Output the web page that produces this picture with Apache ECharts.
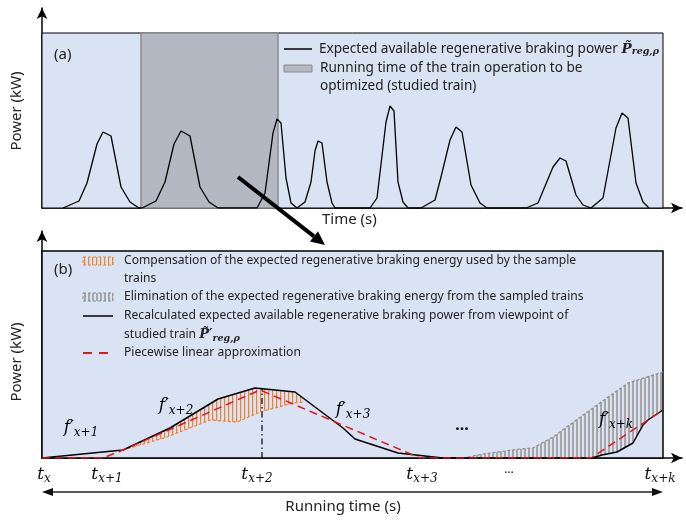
<!DOCTYPE html>
<html><head><meta charset="utf-8">
<script src="https://cdn.jsdelivr.net/npm/echarts@6/dist/echarts.min.js"></script>
<style>html,body{margin:0;padding:0;background:#fff}#c{width:686px;height:522px}</style>
</head><body><div id="c"></div>
<script>
// ---------- Panel (a) ----------
// expected available regenerative braking power [time, power]
var powerA = [[21,0],[37,7],[45,25],[55,64],[61,76],[69,72],[79,21],[88,6],[97,0],[100,0],[114,7],[123,26],[132,64],[139,77],[148,72],[158,21],[167,6],[176,0],[215,0],[223,15],[231,75],[235,89],[239,85],[244,30],[249,5],[255,0],[263,6],[269,26],[273,57],[276,67],[280,65],[285,26],[290,5],[293,0],[328,0],[335,10],[344,86],[348,102],[352,97],[356,26],[361,6],[366,0],[379,0],[393,8],[399,31],[408,68],[414,81],[420,76],[429,23],[438,5],[445,0],[484,0],[496,5],[511,41],[518,50],[524,47],[534,13],[541,3],[549,0],[561,10],[574,80],[580,95],[586,90],[594,25],[601,6],[607,0]];
var studiedRun = [99, 236];          // running time of studied train
var boxA = [621, 175];               // framed plot extent (time, power)

// ---------- Panel (b) ----------
var recalc = [[0,0],[81,8],[128,30],[176,59],[213,70],[253,66],[301,30],[313,19],[356,5],[401,0],[550,0],[560,3],[575,6],[591,15],[601,33],[606,38],[621,48]];
var approx = [[0,0],[61,0],[81,8],[218,68],[378,0],[549,0],[621,48]];
var compUpper = [[81,8],[128,30],[176,59],[213,70],[253,66],[262,59]];
var compLower = [[81,8],[125,21],[168,38],[195,36],[218,46],[251,55],[262,56]];
var elimUpper = [[421,0],[441,4],[478,9],[491,10],[511,21],[555,53],[586,75],[621,86]];
var elimLower = [[421,0],[550,0],[560,3],[575,6],[591,15],[601,33],[606,38],[621,48]];
var peakMark = [[220,0],[220,69]];
var boxB = [621, 207];
var tickValues = [2, 65, 215, 380, 467, 618];
var tickMain = ['t','t','t','t','…','t'];
var tickSub = ['x','x+1','x+2','x+3','','x+k'];

var BG = '#dae3f3', GRAYREG = '#b3b8c2', ORANGE = '#f0802c', GRAYH = '#a6a6a6';
var FONT = 'Noto Sans';
var MATH = 'DejaVu Serif';

function hatch(color, w, lw){
  var c = document.createElement('canvas'); c.width = w; c.height = 4;
  var g = c.getContext('2d'); g.fillStyle = color; g.fillRect(0,0,lw,4);
  return {image: c, repeat: 'repeat'};
}
var orangeHatch = hatch(ORANGE, 4, 1.2);
var grayHatch = hatch(GRAYH, 4, 2);

function regionSeries(upper, lower, fill, edge, edgePts){
  return {
    type:'custom', xAxisIndex:1, yAxisIndex:1, z:3, data:[0], silent:true,
    renderItem: function(params, api){
      var pts = upper.map(function(p){return api.coord(p);})
        .concat(lower.slice().reverse().map(function(p){return api.coord(p);}));
      return {type:'group', children:[
        {type:'polygon', shape:{points:pts}, style:{fill:fill, stroke:null}},
        {type:'polyline', shape:{points:edgePts.map(function(p){return api.coord(p);})},
         style:{stroke:edge, lineWidth:1.2, lineDash:[3,2], fill:null}}
      ]};
    }
  };
}

var mathRich = {
  f:{fontFamily:MATH, fontStyle:'italic', fontSize:17, color:'#111'},
  fs:{fontFamily:MATH, fontStyle:'italic', fontSize:12, color:'#111', padding:[10,0,0,0]}
};
function fLabel(sub, x, y){
  return {type:'text', x:x, y:y, style:{text:'{f|f′}{fs|'+sub+'}', rich:mathRich, align:'center', verticalAlign:'middle'}};
}

var legendTxt = {fontFamily:FONT, fontSize:12.1, fill:'#222'};
var legendTxtA = {fontFamily:FONT, fontSize:13.6, fill:'#222'};
function txt(s, x, y, extra){
  var st = Object.assign({text:s, verticalAlign:'middle', align:'left'}, legendTxt, extra||{});
  return {type:'text', x:x, y:y, style:st};
}

var graphics = [
    // panel (a) labels
    txt('(a)', 54, 55, {fontSize:15}),
    {type:'text', x:17, y:111, rotation:Math.PI/2, style:Object.assign({text:'Power (kW)', align:'center', verticalAlign:'middle'}, legendTxt, {fontSize:15})},
    txt('Time (s)', 322, 220, {fontSize:15}),
    // legend (a)
    {type:'line', shape:{x1:284, y1:49, x2:312, y2:49}, style:{stroke:'#000', lineWidth:1.5}},
    {type:'text', x:319, y:49, style:{text:'Expected available regenerative braking power {P|P\u0303}{ps|reg,ρ}', verticalAlign:'middle', fontFamily:FONT, fontSize:13.6, fill:'#222',
      rich:{P:{fontFamily:MATH, fontStyle:'italic', fontWeight:'bold', fontSize:13.6, color:'#222'}, ps:{fontFamily:MATH, fontStyle:'italic', fontWeight:'bold', fontSize:9.5, color:'#222', padding:[6,0,0,0]}}}},
    {type:'rect', shape:{x:284, y:65, width:28, height:7}, style:{fill:GRAYREG, stroke:'#8a8a8a', lineWidth:1}},
    txt('Running time of the train operation to be', 320, 68, legendTxtA),
    txt('optimized (studied train)', 320, 86, legendTxtA),
    // big arrow
    {type:'line', shape:{x1:238, y1:177, x2:314, y2:236.4}, style:{stroke:'#000', lineWidth:4}},
    {type:'polygon', shape:{points:[[325,245],[310,241.5],[318,231.2]]}, style:{fill:'#000'}},
    // panel (b) labels
    txt('(b)', 54, 270, {fontSize:15}),
    {type:'text', x:17, y:362, rotation:Math.PI/2, style:Object.assign({text:'Power (kW)', align:'center', verticalAlign:'middle'}, legendTxt, {fontSize:15})},
    // legend (b)
    {type:'rect', shape:{x:83, y:257, width:30, height:8}, style:{fill:orangeHatch, stroke:ORANGE, lineWidth:1, lineDash:[3,2]}},
    txt('Compensation of the expected regenerative braking energy used by the sample', 124, 261),
    txt('trains', 124, 279),
    {type:'rect', shape:{x:83, y:293, width:30, height:8}, style:{fill:grayHatch, stroke:'#8c8c8c', lineWidth:1, lineDash:[3,2]}},
    txt('Elimination of the expected regenerative braking energy from the sampled trains', 124, 297),
    {type:'line', shape:{x1:83, y1:316, x2:113, y2:316}, style:{stroke:'#000', lineWidth:1.5}},
    txt('Recalculated expected available regenerative braking power from viewpoint of', 124, 316),
    {type:'text', x:124, y:335, style:{text:'studied train {P|P\u0303′}{ps|reg,ρ}', verticalAlign:'middle', fontFamily:FONT, fontSize:12.1, fill:'#222',
      rich:{P:{fontFamily:MATH, fontStyle:'italic', fontWeight:'bold', fontSize:13, color:'#222'}, ps:{fontFamily:MATH, fontStyle:'italic', fontWeight:'bold', fontSize:9.5, color:'#222', padding:[7,0,0,0]}}}},
    {type:'line', shape:{x1:83, y1:353, x2:113, y2:353}, style:{stroke:'#e8141c', lineWidth:2, lineDash:[9,7]}},
    txt('Piecewise linear approximation', 124, 353),
    // annotations in (b)
    fLabel('x+1', 81, 428),
    fLabel('x+2', 176, 406),
    fLabel('x+3', 353, 410),
    fLabel('x+k', 616, 420),
    {type:'text', x:462, y:425, style:{text:'...', align:'center', verticalAlign:'middle', fontFamily:FONT, fontSize:16, fontWeight:'bold', fill:'#111'}},
    // bottom running-time double arrow
    {type:'line', shape:{x1:50, y1:492, x2:655, y2:492}, style:{stroke:'#222', lineWidth:1.5}},
    {type:'polygon', shape:{points:[[42,492],[53,488],[53,496]]}, style:{fill:'#111'}},
    {type:'polygon', shape:{points:[[663,492],[652,488],[652,496]]}, style:{fill:'#111'}},
    {type:'text', x:343, y:507, style:Object.assign({text:'Running time (s)', align:'center', verticalAlign:'middle'}, legendTxt, {fontSize:15})}
];
graphics.forEach(function(g){ g.z = 100; g.silent = true; });

var chart = echarts.init(document.getElementById('c'), null, {renderer:'canvas'});
var axisLineStyle = {color:'#000', width:1.5};
chart.setOption({
  animation:false,
  textStyle:{fontFamily:FONT},
  grid:[
    {left:42, top:8, width:640, height:200},
    {left:42, top:231, width:640, height:227}
  ],
  xAxis:[
    {type:'value', gridIndex:0, min:0, max:640, splitLine:{show:false}, axisTick:{show:false}, axisLabel:{show:false},
     axisLine:{symbol:['none','arrow'], symbolSize:[8,11], lineStyle:axisLineStyle}},
    {type:'value', gridIndex:1, min:0, max:640, splitLine:{show:false}, axisTick:{show:false},
     axisLine:{symbol:['none','arrow'], symbolSize:[8,11], lineStyle:axisLineStyle},
     axisLabel:{show:true, customValues:tickValues, margin:6, color:'#111',
       formatter:function(v){var i=tickValues.indexOf(v); if(i<0) return '';
         return tickSub[i] ? '{t|'+tickMain[i]+'}{s|'+tickSub[i]+'}' : '{d|'+tickMain[i]+'}';},
       rich:{t:{fontFamily:MATH, fontStyle:'italic', fontSize:17, color:'#111'},
             s:{fontFamily:MATH, fontStyle:'italic', fontSize:12, color:'#111', padding:[9,0,0,0]},
             d:{fontSize:12, color:'#111'}}}}
  ],
  yAxis:[
    {type:'value', gridIndex:0, min:0, max:200, splitLine:{show:false}, axisTick:{show:false}, axisLabel:{show:false},
     axisLine:{symbol:['none','arrow'], symbolSize:[8,11], lineStyle:axisLineStyle}},
    {type:'value', gridIndex:1, min:0, max:227, splitLine:{show:false}, axisTick:{show:false}, axisLabel:{show:false},
     axisLine:{symbol:['none','arrow'], symbolSize:[8,11], lineStyle:axisLineStyle}}
  ],
  series:[
    {type:'line', xAxisIndex:0, yAxisIndex:0, data:[], z:1, silent:true,
     markArea:{silent:true, data:[
       [{coord:[0,0], itemStyle:{color:BG, borderColor:'#000', borderWidth:1}},{coord:[boxA[0],boxA[1]]}],
       [{coord:[studiedRun[0],0], itemStyle:{color:GRAYREG, borderColor:'#8a8a8a', borderWidth:1.5}},{coord:[studiedRun[1],boxA[1]]}]
     ]}},
    {type:'line', xAxisIndex:0, yAxisIndex:0, data:powerA, symbol:'none', z:4, silent:true,
     lineStyle:{color:'#000', width:1.3}},
    {type:'line', xAxisIndex:1, yAxisIndex:1, data:[], z:1, silent:true,
     markArea:{silent:true, data:[
       [{coord:[0,0], itemStyle:{color:BG, borderColor:'#000', borderWidth:1.5}},{coord:[boxB[0],boxB[1]]}]
     ]}},
    regionSeries(compUpper, compLower, orangeHatch, ORANGE, compLower),
    regionSeries(elimUpper, elimLower, grayHatch, '#8c8c8c', elimUpper),
    {type:'line', xAxisIndex:1, yAxisIndex:1, data:recalc, symbol:'none', z:5, silent:true,
     lineStyle:{color:'#000', width:1.5}},
    {type:'line', xAxisIndex:1, yAxisIndex:1, data:approx, symbol:'none', z:6, silent:true,
     lineStyle:{color:'#e8141c', width:1.5, type:[8,5]}},
    {type:'line', xAxisIndex:1, yAxisIndex:1, data:peakMark, symbol:'none', z:6, silent:true,
     lineStyle:{color:'#000', width:1.2, type:[6,3,1.5,3]}}
  ],
  graphic:graphics
});
</script></body></html>
